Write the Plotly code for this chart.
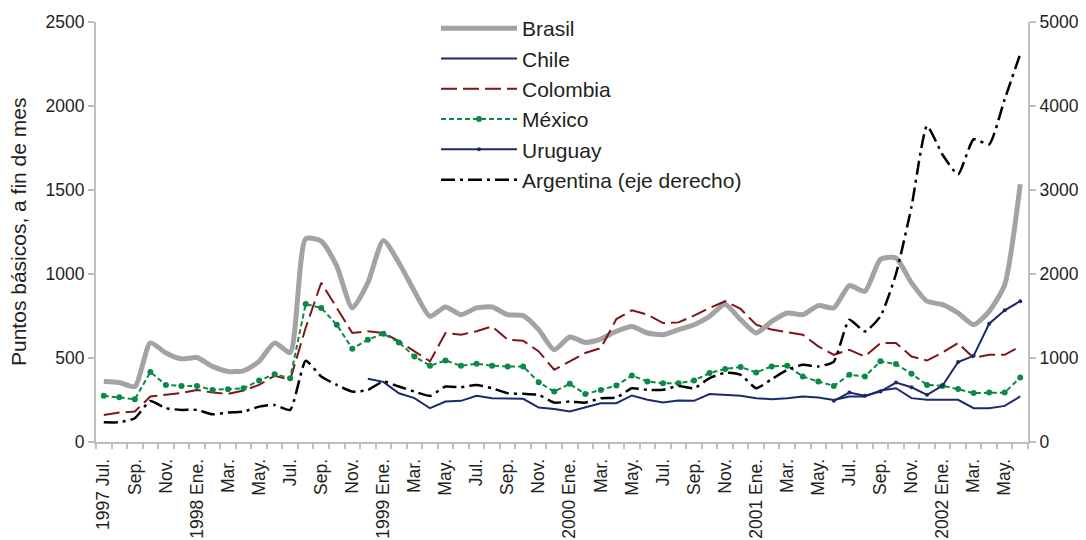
import plotly.graph_objects as go

# 60 monthly categories: Jul 1997 .. Jun 2002
x_idx = list(range(60))
tick_labels = ["1997 Jul.", "Sep.", "Nov.", "1998 Ene.", "Mar.", "May.",
               "Jul.", "Sep.", "Nov.", "1999 Ene.", "Mar.", "May.",
               "Jul.", "Sep.", "Nov.", "2000 Ene.", "Mar.", "May.",
               "Jul.", "Sep.", "Nov.", "2001 Ene.", "Mar.", "May.",
               "Jul.", "Sep.", "Nov.", "2002 Ene.", "Mar.", "May."]
tick_positions = list(range(0, 60, 2))

brasil = [360, 354, 330, 590, 530, 495, 503, 450, 420, 424, 480, 590,
          533, 1210, 1196, 1047, 798, 948, 1200, 1067, 897, 748, 804, 758,
          798, 804, 758, 752, 669, 549, 625, 593, 613, 659, 688, 649,
          639, 669, 698, 748, 820, 728, 649, 718, 768, 758, 812, 798,
          931, 897, 1087, 1095, 947, 838, 818, 768, 698, 778, 937, 1534]

chile = [None] * 17 + [376, 358, 290, 261, 201, 241, 245,
          275, 261, 257, 257, 205, 197, 181, 205, 231, 231, 277, 251,
          235, 247, 245, 285, 279, 275, 261, 255, 261, 271, 265, 250,
          271, 271, 306, 320, 261, 251, 251, 251, 201, 201, 215, 271]

colombia = [161, 175, 181, 271, 281, 291, 310, 294, 287, 306, 340, 394,
            370, 680, 948, 798, 649, 659, 649, 600, 540, 480, 649, 639,
            659, 688, 609, 603, 539, 430, 480, 530, 559, 732, 784, 758,
            708, 712, 752, 798, 838, 792, 698, 669, 653, 639, 569, 519,
            549, 509, 589, 589, 509, 485, 533, 589, 500, 519, 519, 569]

mexico = [275, 267, 255, 416, 340, 334, 334, 310, 314, 320, 366, 404,
          380, 822, 798, 698, 555, 609, 645, 593, 509, 454, 485, 454,
          466, 454, 450, 450, 356, 300, 346, 285, 310, 336, 396, 360,
          350, 350, 366, 410, 435, 446, 414, 450, 454, 390, 360, 334,
          400, 390, 480, 464, 406, 340, 334, 315, 291, 294, 294, 384]

uruguay = [None] * 47 + [245, 294, 275, 300, 354, 326, 281, 336, 476,
                         513, 704, 784, 838]

argentina = [235, 235, 283, 489, 402, 382, 382, 330, 350, 362, 421, 441,
             382, 967, 780, 680, 600, 620, 720, 660, 600, 549, 660, 652,
             680, 640, 581, 573, 561, 469, 481, 469, 521, 529, 640, 621,
             621, 668, 640, 760, 825, 800, 641, 748, 859, 919, 899, 958,
             1456, 1316, 1496, 2000, 2800, 3763, 3420, 3186, 3604, 3544, 4081, 4618]

y_title = "Puntos básicos, a fin de mes"

FONT = "Liberation Sans, Arial, sans-serif"
TXT = "#231f20"
AX = "#bfbfbf"
TICK_SIZE = 17.5
BIG_SIZE = 21

# the page body adds an 8px offset; the figure is sized to fill the rest
W, H = 1078, 532
ML, MR, MT, MB = 88, 58, 14, 98

fig = go.Figure()
fig.add_trace(go.Scatter(x=x_idx, y=brasil, name="Brasil", mode="lines",
                         line=dict(color="#a3a3a3", width=5, shape="spline", smoothing=0.6)))
fig.add_trace(go.Scatter(x=x_idx, y=chile, name="Chile", mode="lines",
                         line=dict(color="#1b2a6e", width=2)))
fig.add_trace(go.Scatter(x=x_idx, y=colombia, name="Colombia", mode="lines",
                         line=dict(color="#7f1518", width=2, dash="16px,6px")))
fig.add_trace(go.Scatter(x=x_idx, y=mexico, name="México", mode="lines+markers",
                         line=dict(color="#0b8a47", width=2, dash="5px,3px"),
                         marker=dict(color="#0b8a47", size=6)))
fig.add_trace(go.Scatter(x=x_idx, y=uruguay, name="Uruguay", mode="lines+markers",
                         line=dict(color="#1b2a6e", width=2),
                         marker=dict(color="#1b2a6e", size=4)))
fig.add_trace(go.Scatter(x=x_idx, y=argentina, name="Argentina (eje derecho)",
                         mode="lines", yaxis="y2",
                         line=dict(color="#000000", width=2.5, dash="14px,5px,3px,5px",
                                   shape="spline", smoothing=0.5)))

fig.update_layout(
    width=W, height=H,
    margin=dict(l=ML, r=MR, t=MT, b=MB, autoexpand=False),
    paper_bgcolor="white", plot_bgcolor="white",
    font=dict(family=FONT, size=TICK_SIZE, color=TXT),
    showlegend=True,
    legend=dict(xref="container", yref="container",
                x=428 / W, y=1 + 7 / H, xanchor="left", yanchor="top",
                bgcolor="rgba(0,0,0,0)", borderwidth=0,
                itemwidth=76, tracegroupgap=0,
                font=dict(family=FONT, size=BIG_SIZE, color=TXT)),
    xaxis=dict(range=[-0.5, 59.5], tickmode="array", tickvals=tick_positions,
               ticktext=tick_labels, tickangle=-90,
               ticks="outside", ticklen=8, tickcolor="rgba(0,0,0,0)",
               showline=True, linecolor=AX, linewidth=2,
               showgrid=False, zeroline=False,
               minor=dict(tickmode="array",
                          tickvals=[i - 0.5 for i in range(61)],
                          ticks="outside", ticklen=5, tickcolor=AX, tickwidth=2,
                          showgrid=False)),
    yaxis=dict(range=[0, 2500], tickvals=[0, 500, 1000, 1500, 2000, 2500],
               ticks="outside", ticklen=6, tickcolor=AX, tickwidth=2,
               showline=True, linecolor=AX, linewidth=2,
               showgrid=False, zeroline=False),
    yaxis2=dict(range=[0, 5000], tickvals=[0, 1000, 2000, 3000, 4000, 5000],
                overlaying="y", side="right",
                ticks="outside", ticklen=6, tickcolor=AX, tickwidth=2,
                showline=True, linecolor=AX, linewidth=2,
                showgrid=False, zeroline=False),
    annotations=[dict(text=y_title, textangle=-90, showarrow=False,
                      xref="paper", yref="paper", x=0, y=0.5,
                      xanchor="center", yanchor="middle",
                      xshift=-(ML - 10),
                      font=dict(family=FONT, size=BIG_SIZE, color=TXT))],
)

fig.write_html("out.html")
